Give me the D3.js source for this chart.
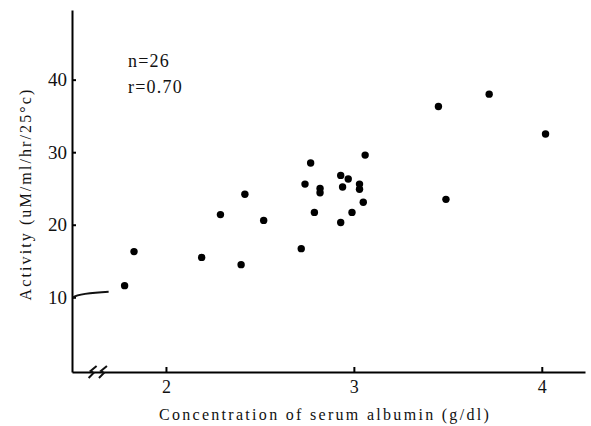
<!DOCTYPE html>
<html>
<head>
<meta charset="utf-8">
<script src="https://cdn.jsdelivr.net/npm/d3@7"></script>
<style>
  body { margin: 0; background: #fff; }
  svg { display: block; }
  text { font-family: "Liberation Serif", "DejaVu Serif", serif; fill: #111; }
</style>
</head>
<body>
<svg width="591" height="426"></svg>
<script>
// serum albumin (g/dl) vs activity
const albumin = [1.78, 1.83, 2.19, 2.29, 2.40, 2.42, 2.52, 2.72, 2.74, 2.77, 2.79, 2.82, 2.82,
                 2.93, 2.94, 2.97, 2.93, 2.99, 3.03, 3.03, 3.05, 3.06, 3.45, 3.49, 3.72, 4.02];
const activity = [11.6, 16.3, 15.5, 21.4, 14.5, 24.2, 20.6, 16.7, 25.6, 28.5, 21.7, 25.0, 24.4,
                  26.8, 25.2, 26.3, 20.3, 21.7, 25.6, 24.9, 23.1, 29.6, 36.3, 23.5, 38.0, 32.5];
const xTicks = [2, 3, 4];
const yTicks = [10, 20, 30, 40];
const notes = ["n=26", "r=0.70"];

const points = albumin.map((a, i) => ({x: a, y: activity[i]}));

const svg = d3.select("svg");
const margin = {top: 10, right: 6, bottom: 54, left: 72};
const width = 591, height = 426;

let x = d3.scaleLinear([1.5, 4.23], [margin.left, width - margin.right]);
let y = d3.scaleLinear([-0.3, 49.6], [height - margin.bottom, margin.top]);

// axes, ticks pointing inward
svg.append("g")
    .attr("transform", `translate(0,${height - margin.bottom})`)
    .call(d3.axisBottom(x).tickValues(xTicks).tickFormat(d3.format("d"))
        .tickSizeInner(-5).tickSizeOuter(0).tickPadding(8))
    .call(g => g.select(".domain").attr("stroke-width", 2))
    .call(g => g.selectAll(".tick line").attr("stroke-width", 2))
    .call(g => g.selectAll(".tick text").attr("font-size", 18)
        .attr("font-family", "Liberation Serif, serif").attr("fill", "#111"));

svg.append("g")
    .attr("transform", `translate(${margin.left},0)`)
    .call(d3.axisLeft(y).tickValues(yTicks).tickFormat(d3.format("d"))
        .tickSizeInner(-4).tickSizeOuter(0).tickPadding(5))
    .call(g => g.select(".domain").attr("stroke-width", 2))
    .call(g => g.selectAll(".tick line").attr("stroke-width", 2))
    .call(g => g.selectAll(".tick text").attr("font-size", 19)
        .attr("font-family", "Liberation Serif, serif").attr("fill", "#111"));

// axis break marks on x
const by = y(-0.3);
svg.append("g")
    .attr("fill", "none")
    .attr("stroke", "#111")
    .attr("stroke-width", 2)
    .selectAll("path")
    .data([x(1.615), x(1.67)])
    .join("path")
    .attr("d", cx => `M${cx - 5},${by + 6}L${cx},${by + 1}L${cx - 3},${by - 1}L${cx + 3},${by - 6}`);

// hand drawn lead from the 10 tick
const y10 = y(10);
svg.append("path")
    .attr("fill", "none")
    .attr("stroke", "#111")
    .attr("stroke-width", 2)
    .attr("d", `M${x(1.505)},${y10}Q${x(1.54)},${y10 - 4} ${x(1.695)},${y10 - 5.5}`);

svg.append("g")
    .selectAll("circle")
    .data(points)
    .join("circle")
    .attr("cx", d => x(d.x))
    .attr("cy", d => y(d.y))
    .attr("r", 3.7)
    .attr("fill", "#000");

svg.append("g")
    .attr("font-size", 18)
    .attr("letter-spacing", 1.2)
    .selectAll("text")
    .data(notes)
    .join("text")
    .attr("x", 128)
    .attr("y", (d, i) => 67 + i * 26)
    .text(d => d);

svg.append("text")
    .attr("transform", `translate(31,194) rotate(-90)`)
    .attr("text-anchor", "middle")
    .attr("font-size", 16)
    .attr("letter-spacing", 2.1)
    .text("Activity (uM/ml/hr/25°c)");

svg.append("text")
    .attr("x", 325)
    .attr("y", 420)
    .attr("text-anchor", "middle")
    .attr("font-size", 16)
    .attr("letter-spacing", 2.3)
    .text("Concentration of serum albumin (g/dl)");
</script>
</body>
</html>
